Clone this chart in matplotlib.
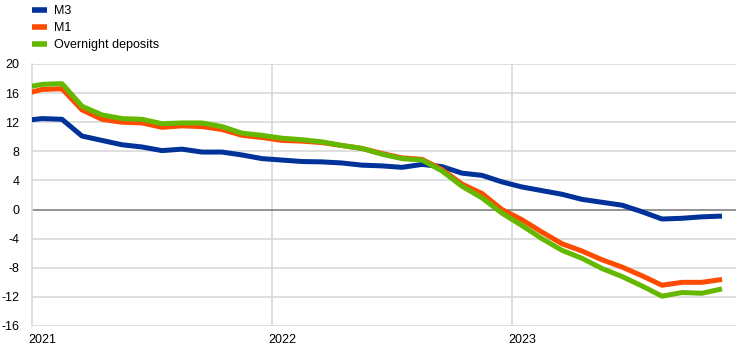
import numpy as np
import matplotlib
matplotlib.use("Agg")
import matplotlib.pyplot as plt
import matplotlib.transforms as mtransforms

# monthly annual growth rates, Dec 2020 - Nov 2023 (percentages)
months = np.arange(36)  # 0 = Dec 2020
m3 = [12.2, 12.5, 12.4, 10.1, 9.5, 8.9, 8.6, 8.1, 8.3, 7.9, 7.9, 7.5,
      7.0, 6.8, 6.6, 6.55, 6.4, 6.1, 6.0, 5.8, 6.2, 5.9, 5.0, 4.7,
      3.8, 3.1, 2.6, 2.1, 1.4, 1.0, 0.6, -0.3, -1.3, -1.2, -1.0, -0.9]
m1 = [15.8, 16.5, 16.6, 13.7, 12.4, 12.0, 11.9, 11.3, 11.5, 11.4, 11.0, 10.2,
      9.9, 9.5, 9.4, 9.2, 8.8, 8.4, 7.7, 7.1, 6.9, 5.5, 3.5, 2.2,
      0.0, -1.4, -3.1, -4.7, -5.7, -6.9, -7.9, -9.1, -10.4, -10.0, -10.0, -9.6]
overnight = [16.7, 17.2, 17.3, 14.2, 13.0, 12.5, 12.4, 11.8, 11.9, 11.9, 11.4, 10.5,
             10.2, 9.8, 9.6, 9.3, 8.8, 8.4, 7.6, 7.0, 6.8, 5.3, 3.2, 1.6,
             -0.5, -2.2, -4.0, -5.6, -6.7, -8.1, -9.2, -10.5, -11.9, -11.4, -11.5, -10.9]
year_labels = ["2021", "2022", "2023"]
year_starts = [0.5, 12.5, 24.5]
yticks = np.arange(-16, 21, 4)

plt.rcParams['font.family'] = ['Liberation Sans', 'DejaVu Sans']
plt.rcParams['font.size'] = 9

fig = plt.figure(figsize=(7.42, 3.52), dpi=100)
ax = fig.add_axes([32 / 742, 26 / 352, 704 / 742, 262 / 352])

grid_col = "#d9d9d9"
for y in yticks:
    if y == 0:
        continue
    ax.axhline(y, color=grid_col, lw=1.2, zorder=0)
for x in year_starts[1:]:
    ax.axvline(x, color=grid_col, lw=1.2, zorder=0)
ax.axhline(0, color="#808080", lw=1.2, zorder=1)

ax.plot(months, m3, color="#003299", lw=3.6, label="M3", zorder=3, solid_capstyle="butt")
ax.plot(months, m1, color="#FF4B00", lw=3.6, label="M1", zorder=4, solid_capstyle="butt")
ax.plot(months, overnight, color="#65B800", lw=3.6, label="Overnight deposits", zorder=5,
        solid_capstyle="butt")

ax.set_xlim(0.5, 35.7)
ax.set_ylim(-16, 20)
ax.set_yticks(yticks)
ax.set_yticklabels([str(v) for v in yticks])
ax.tick_params(axis="y", length=0, pad=9)
ax.set_xticks([])

for s in ["top", "right", "bottom"]:
    ax.spines[s].set_visible(False)
ax.spines["left"].set_color(grid_col)
ax.spines["left"].set_linewidth(1.2)

trans = mtransforms.blended_transform_factory(ax.transData, ax.transAxes)
for x, lab in zip(year_starts, year_labels):
    ax.text(x - 0.2, -0.055, lab, transform=trans, ha="left", va="center")

leg = fig.legend(loc="upper left", bbox_to_anchor=(27 / 742, 1.0), frameon=False,
                 handlelength=1.2, handletextpad=0.55, labelspacing=0.4,
                 borderaxespad=0)
for line in leg.get_lines():
    line.set_linewidth(4)

fig.savefig("out.png", dpi=100)
